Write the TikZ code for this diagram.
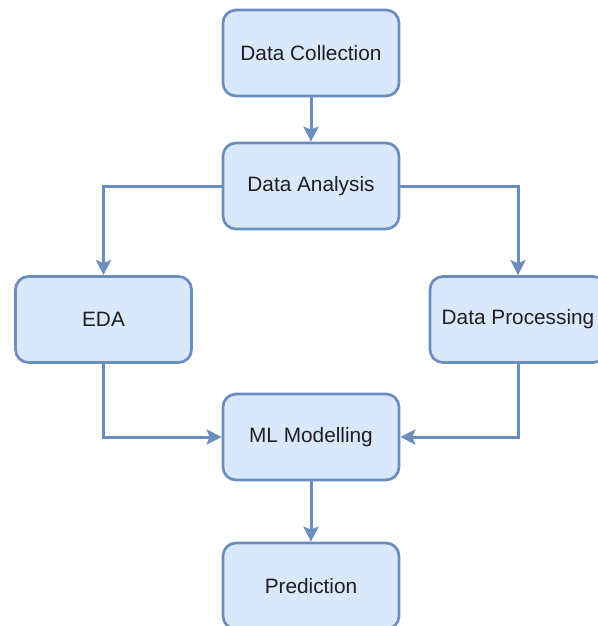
\documentclass[tikz,border=0pt]{standalone}
\usepackage{fontspec}
\setmainfont{Liberation Sans}
\usetikzlibrary{arrows.meta}
\definecolor{boxfill}{HTML}{DAE8FC}
\definecolor{boxline}{HTML}{6C8EBF}
\begin{document}
\begin{tikzpicture}[x=1pt,y=-1pt,
  stage/.style={draw=boxline, fill=boxfill, line width=2.7pt, rounded corners=13pt,
    minimum width=176pt, minimum height=86pt, inner sep=0pt,
    font=\fontsize{20.8}{24}\selectfont, text=black!88},
  flow/.style={draw=boxline, line width=3pt,
    -{Stealth[length=15pt,width=15pt,inset=3pt]}}]
\useasboundingbox (0,0) rectangle (597,626);
\node[stage] (dc) at (311,53) {Data Collection};
\node[stage] (da) at (311,186) {Data Analysis};
\node[stage] (eda) at (103.5,319.5) {EDA};
\node[stage] (dp) at (518,319.5) {Data Processing};
\node[stage] (ml) at (311,437) {ML Modelling};
\node[stage] (pr) at (311,586) {Prediction};
\draw[flow] (dc) -- (da);
\draw[flow] (da.west) -| (eda.north);
\draw[flow] (da.east) -| (dp.north);
\draw[flow] (eda.south) |- (ml.west);
\draw[flow] (dp.south) |- (ml.east);
\draw[flow] (ml) -- (pr);
\end{tikzpicture}
\end{document}
